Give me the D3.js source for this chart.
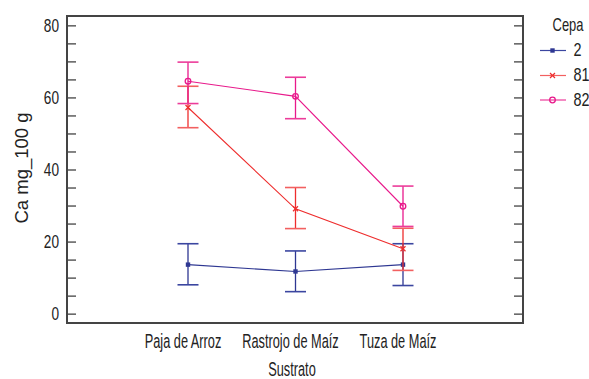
<!DOCTYPE html>
<html><head><meta charset="utf-8">
<script src="https://cdn.jsdelivr.net/npm/d3@7"></script>
<style>
body{margin:0;background:#fff;}
text{font-family:"Liberation Sans",Arial,sans-serif;fill:#222;}
</style></head>
<body><svg id="c" width="589" height="379"></svg>
<script>
const categories = ["Paja de Arroz","Rastrojo de Maíz","Tuza de Maíz"];
const seriesNames = ["2","81","82"];
const mean2  = [13.6, 11.7, 13.6];
const lo2    = [8.0, 6.1, 7.8];
const hi2    = [19.4, 17.4, 19.4];
const mean81 = [57.2, 29.1, 18.0];
const lo81   = [51.6, 23.6, 12.0];
const hi81   = [63.1, 35.0, 23.7];
const mean82 = [64.5, 60.3, 29.8];
const lo82   = [58.3, 54.1, 24.2];
const hi82   = [69.8, 65.6, 35.4];
const yTicks = [0,20,40,60,80];
const yMinor = [0,5,10,15,20,25,30,35,40,45,50,55,60,65,70,75,80];

const colors = {"2":"#2e3792","81":"#ee2d2d","82":"#e8198b"};
const capColors = {"2":"#3b46a0","81":"#f26060","82":"#ec3c9a"};
const data = [
  {name:"2", mean:mean2, lo:lo2, hi:hi2, sym:"square"},
  {name:"81", mean:mean81, lo:lo81, hi:hi81, sym:"x"},
  {name:"82", mean:mean82, lo:lo82, hi:hi82, sym:"circle"}
];

const svg = d3.select("#c");
const L=67, R=523, T=16, B=323;
const x = d3.scalePoint().domain(categories).range([188,403]);
const y = d3.scaleLinear().domain([-2.6,82.6]).range([B,T]);

// condensed text helper
function ntext(g, str, px, py, opts){
  const o = Object.assign({size:17, sx:0.78, anchor:"start", rot:0, dy:0}, opts||{});
  const t = g.append("text")
    .attr("transform",`translate(${px},${py}) rotate(${o.rot}) scale(${o.sx},1)`)
    .attr("text-anchor",o.anchor).attr("font-size",o.size).attr("dy",o.dy).text(str);
  return t;
}

// axes
const gl = svg.append("g").attr("transform",`translate(${L},0)`)
  .call(d3.axisLeft(y).tickValues(yMinor).tickSize(-9).tickFormat(""));
gl.select(".domain").remove();
gl.selectAll(".tick line").attr("stroke","#333").attr("stroke-width",1.2);
const gr = svg.append("g").attr("transform",`translate(${R},0)`)
  .call(d3.axisRight(y).tickValues(yMinor).tickSize(-9).tickFormat(""));
gr.select(".domain").remove();
gr.selectAll(".tick line").attr("stroke","#333").attr("stroke-width",1.2);

const gt = svg.append("g");
yTicks.forEach(d=>ntext(gt, String(d), 59, y(d), {anchor:"end", dy:"0.36em", size:17.5, sx:0.78}));

// frame
svg.append("rect").attr("x",L).attr("y",T).attr("width",R-L).attr("height",B-T)
  .attr("fill","none").attr("stroke","#444").attr("stroke-width",2);

// x labels
const gx = svg.append("g");
categories.forEach(c=>ntext(gx, c, x(c)-5, 347.5, {anchor:"middle", size:19.5, sx:0.655}));
ntext(svg, "Sustrato", 292, 375.5, {anchor:"middle", size:19.5, sx:0.655});
ntext(svg, "Ca mg_100 g", 27.5, 168, {anchor:"middle", rot:-90, size:18.5, sx:1});

// series
const line = d3.line().x(d=>x(d.c)).y(d=>y(d.v));
function marker(g, sym, cx, cy, col){
  if(sym==="square") g.append("rect").attr("x",cx-2.2).attr("y",cy-2.2).attr("width",4.4).attr("height",4.4).attr("fill",col);
  else if(sym==="x") g.append("path").attr("d",`M${cx-2.5},${cy-2.5}L${cx+2.5},${cy+2.5}M${cx-2.5},${cy+2.5}L${cx+2.5},${cy-2.5}`).attr("stroke",col).attr("stroke-width",1.2);
  else g.append("circle").attr("cx",cx).attr("cy",cy).attr("r",2.8).attr("fill","none").attr("stroke",col).attr("stroke-width",1.3);
}
data.forEach(s=>{
  const g = svg.append("g");
  const col = colors[s.name], ccol = capColors[s.name];
  categories.forEach((c,i)=>{
    const cx = x(c);
    g.append("line").attr("x1",cx).attr("x2",cx).attr("y1",y(s.lo[i])).attr("y2",y(s.hi[i])).attr("stroke",col).attr("stroke-width",1.3);
    [s.lo[i],s.hi[i]].forEach(v=>{
      g.append("line").attr("x1",cx-10.5).attr("x2",cx+10.5).attr("y1",y(v)).attr("y2",y(v)).attr("stroke",ccol).attr("stroke-width",1.6);
    });
  });
  g.append("path").datum(categories.map((c,i)=>({c,v:s.mean[i]}))).attr("d",line)
    .attr("fill","none").attr("stroke",col).attr("stroke-width",1.1);
  categories.forEach((c,i)=>marker(g,s.sym,x(c),y(s.mean[i]),col));
});

// legend
ntext(svg, "Cepa", 568, 31, {anchor:"middle", size:17.5, sx:0.74});
data.forEach((s,i)=>{
  const ly = [50.5,75.5,100][i];
  const g = svg.append("g");
  g.append("line").attr("x1",540).attr("x2",566).attr("y1",ly).attr("y2",ly).attr("stroke",capColors[s.name]).attr("stroke-width",1.2);
  marker(g,s.sym,552.5,ly,colors[s.name]);
  ntext(g, s.name, 573.5, ly, {dy:"0.33em", size:18, sx:0.8});
});
</script></body></html>
